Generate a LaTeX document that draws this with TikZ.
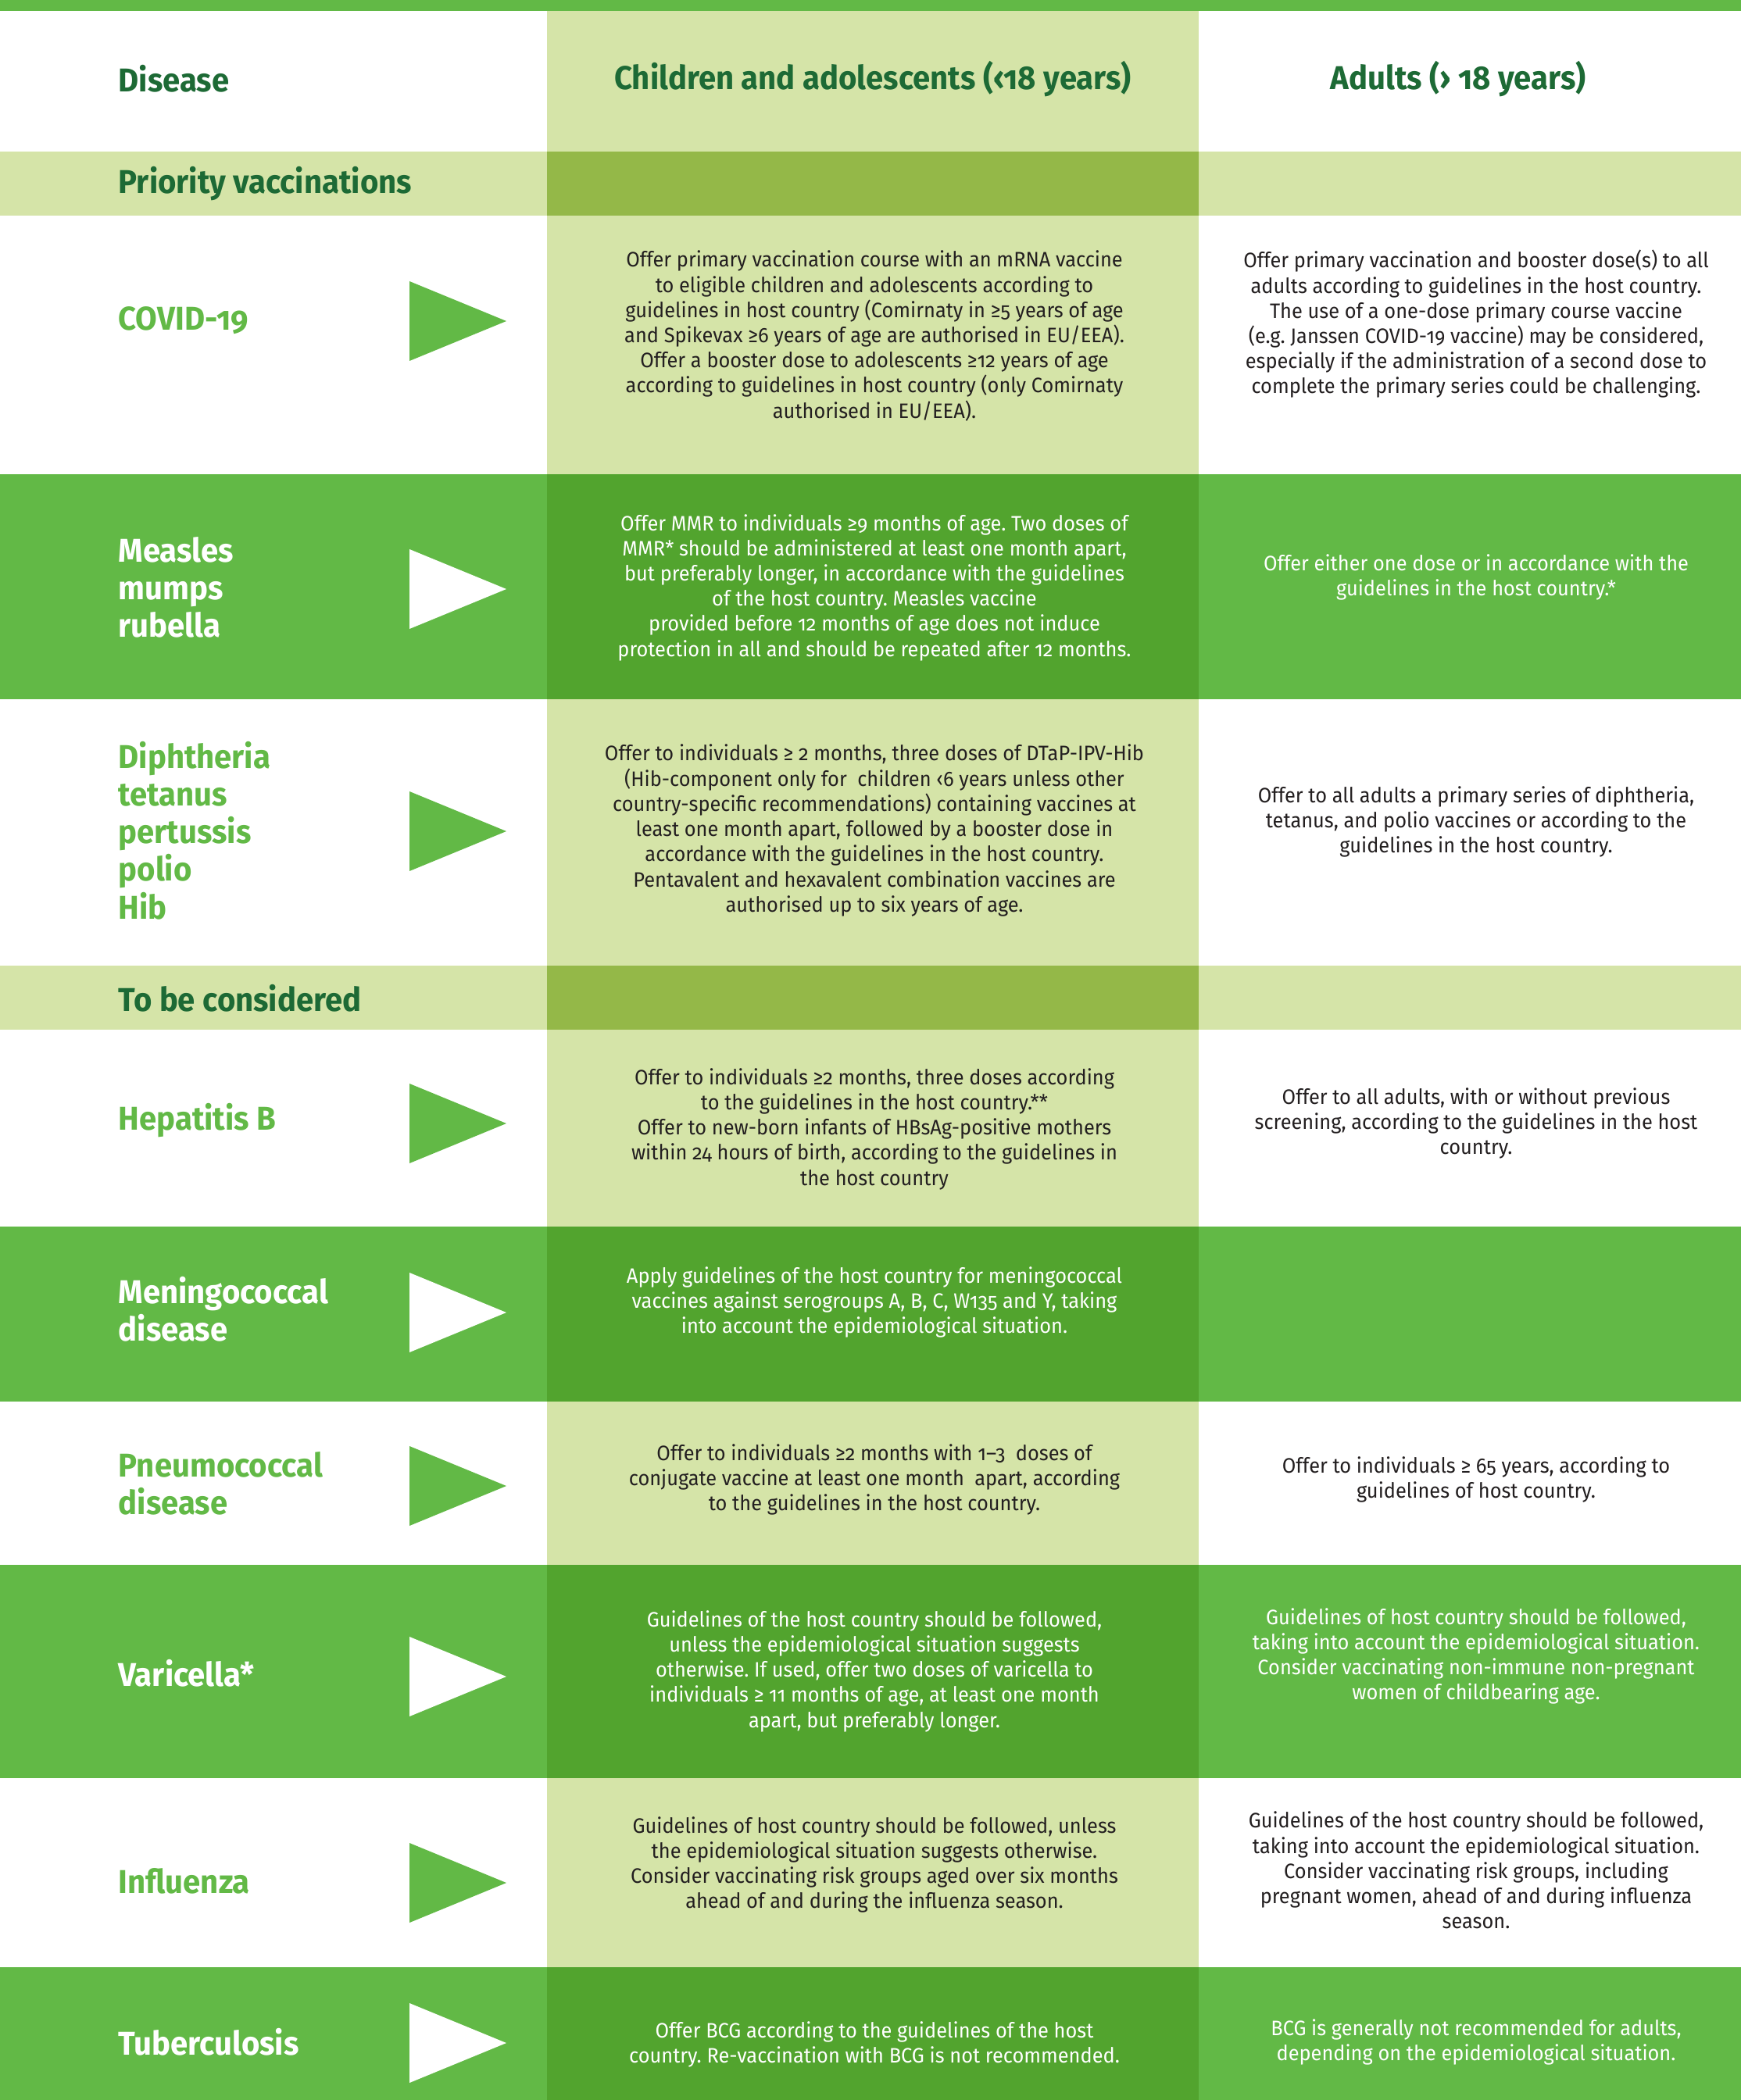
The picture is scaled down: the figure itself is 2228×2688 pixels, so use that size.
\documentclass[tikz,border=0pt]{standalone}
\usepackage{fontspec}
\setmainfont{Fira Sans}[FakeStretch=0.95, Numbers=OldStyle]
\usetikzlibrary{positioning}
\frenchspacing

\definecolor{leafgreen}{HTML}{62B946}
\definecolor{deepgreen}{HTML}{52A42E}
\definecolor{palegreen}{HTML}{D5E4A8}
\definecolor{olivegreen}{HTML}{94B848}
\definecolor{headgreen}{HTML}{1D6A35}
\definecolor{inkgrey}{HTML}{231F20}

\begin{document}
\begin{tikzpicture}[
    x=0.01cm, y=-0.01cm,
    hdr/.style={inner sep=0pt, text=headgreen, font=\fontsize{12}{13.7}\selectfont\bfseries},
    disease/.style={anchor=west, align=left, inner sep=0pt, font=\fontsize{12}{13.7}\selectfont\bfseries},
    cell/.style={align=center, inner sep=0pt, font=\fontsize{7.6}{9.16}\selectfont},
    ]
    \useasboundingbox (0,0) rectangle (2228,2688);

    % Backgrounds
    \fill[white] (0,0) rectangle (2228,2688);
    \fill[palegreen] (700,14) rectangle (1534,2688);
    \fill[leafgreen] (0,0) rectangle (2228,14);
    \foreach \top/\bot in {194/276, 1236/1318} {
        \fill[palegreen] (0,\top) rectangle (2228,\bot);
        \fill[olivegreen] (700,\top) rectangle (1534,\bot);
    }
    \foreach \top/\bot in {607/895, 1570/1794, 2003/2276, 2518/2688} {
        \fill[leafgreen] (0,\top) rectangle (2228,\bot);
        \fill[deepgreen] (700,\top) rectangle (1534,\bot);
    }

    % Arrow marks
    \foreach \ty/\tc in {411/leafgreen, 754/white, 1064/leafgreen, 1438/leafgreen,
                         1680/white, 1902/leafgreen, 2146/white, 2410/leafgreen, 2615/white}
        \fill[\tc] (524,\ty-51) -- (648,\ty) -- (524,\ty+51) -- cycle;

    % Header
    \node (hDis) [hdr, anchor=west] at (151,101) {Disease};
    \node (hKid) [hdr] at (1117,101) {Children and adolescents (‹18 years)};
    \node (hAdu) [hdr] at (1866,101) {Adults (› 18 years)};
    \node (bPri) [hdr, anchor=west] at (151,235) {Priority vaccinations};
    \node (bCon) [hdr, anchor=west] at (151,1278) {To be considered};

    % Diseases
    \node (dCov) [disease, text=leafgreen] at (151,410) {COVID-19};
    \node (dMmr) [disease, text=white] at (151,752) {Measles\\mumps\\rubella};
    \node (dDip) [disease, text=leafgreen] at (151,1063) {Diphtheria\\tetanus\\pertussis\\polio\\Hib};
    \node (dHep) [disease, text=leafgreen] at (151,1434) {Hepatitis B};
    \node (dMen) [disease, text=white] at (151,1676) {Meningococcal\\disease};
    \node (dPne) [disease, text=leafgreen] at (151,1899) {Pneumococcal\\disease};
    \node (dVar) [disease, text=white] at (151,2142) {Varicella*};
    \node (dFlu) [disease, text=leafgreen] at (151,2408) {Influenza};
    \node (dTub) [disease, text=white] at (151,2614) {Tuberculosis};

    % Children and adolescents
    \node (kCov) [cell, text=inkgrey] at (1119,430) {Offer primary vaccination course with an mRNA vaccine\\to eligible children and adolescents according to\\guidelines in host country (Comirnaty in ≥5 years of age\\and Spikevax ≥6 years of age are authorised in EU/EEA).\\Offer a booster dose to adolescents ≥12 years of age\\according to guidelines in host country (only Comirnaty\\authorised in EU/EEA).};
    \node (kMmr) [cell, text=white] at (1119,752) {Offer MMR to individuals ≥9 months of age. Two doses of\\MMR* should be administered at least one month apart,\\but preferably longer, in accordance with the guidelines\\of the host country. Measles vaccine\\provided before 12 months of age does not induce\\protection in all and should be repeated after 12 months.};
    \node (kDip) [cell, text=inkgrey] at (1119,1063) {Offer to individuals ≥ 2 months, three doses of DTaP-IPV-Hib\\(Hib-component only for\ \ children ‹6 years unless other\\country-specific recommendations) containing vaccines at\\least one month apart, followed by a booster dose in\\accordance with the guidelines in the host country.\\Pentavalent and hexavalent combination vaccines are\\authorised up to six years of age.};
    \node (kHep) [cell, text=inkgrey] at (1119,1445) {Offer to individuals ≥2 months, three doses according\\to the guidelines in the host country.**\\Offer to new-born infants of HBsAg-positive mothers\\within 24 hours of birth, according to the guidelines in\\the host country};
    \node (kMen) [cell, text=white] at (1119,1667) {Apply guidelines of the host country for meningococcal\\vaccines against serogroups A, B, C, W135 and Y, taking\\into account the epidemiological situation.};
    \node (kPne) [cell, text=inkgrey] at (1119,1894) {Offer to individuals ≥2 months with 1–3\ \ doses of\\conjugate vaccine at least one month\ \ apart, according\\to the guidelines in the host country.};
    \node (kVar) [cell, text=white] at (1119,2139) {Guidelines of the host country should be followed,\\unless the epidemiological situation suggests\\otherwise. If used, offer two doses of varicella to\\individuals ≥ 11 months of age, at least one month\\apart, but preferably longer.};
    \node (kFlu) [cell, text=inkgrey] at (1119,2387) {Guidelines of host country should be followed, unless\\the epidemiological situation suggests otherwise.\\Consider vaccinating risk groups aged over six months\\ahead of and during the influenza season.};
    \node (kTub) [cell, text=white] at (1119,2617) {Offer BCG according to the guidelines of the host\\country. Re-vaccination with BCG is not recommended.};

    % Adults
    \node (aCov) [cell, text=inkgrey] at (1889,415) {Offer primary vaccination and booster dose(s) to all\\adults according to guidelines in the host country.\\The use of a one-dose primary course vaccine\\(e.g. Janssen COVID-19 vaccine) may be considered,\\especially if the administration of a second dose to\\complete the primary series could be challenging.};
    \node (aMmr) [cell, text=white] at (1889,739) {Offer either one dose or in accordance with the\\guidelines in the host country.*};
    \node (aDip) [cell, text=inkgrey] at (1889,1052) {Offer to all adults a primary series of diphtheria,\\tetanus, and polio vaccines or according to the\\guidelines in the host country.};
    \node (aHep) [cell, text=inkgrey] at (1889,1438) {Offer to all adults, with or without previous\\screening, according to the guidelines in the host\\country.};
    \node (aPne) [cell, text=inkgrey] at (1889,1894) {Offer to individuals ≥ 65 years, according to\\guidelines of host country.};
    \node (aVar) [cell, text=white] at (1889,2120) {Guidelines of host country should be followed,\\taking into account the epidemiological situation.\\Consider vaccinating non-immune non-pregnant\\women of childbearing age.};
    \node (aFlu) [cell, text=inkgrey] at (1889,2394) {Guidelines of the host country should be followed,\\taking into account the epidemiological situation.\\Consider vaccinating risk groups, including\\pregnant women, ahead of and during influenza\\season.};
    \node (aTub) [cell, text=white] at (1889,2614) {BCG is generally not recommended for adults,\\depending on the epidemiological situation.};
\end{tikzpicture}
\end{document}
